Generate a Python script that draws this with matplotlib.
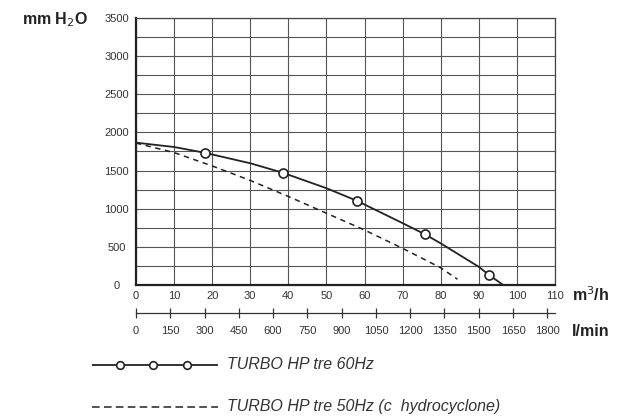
import numpy as np
import matplotlib
matplotlib.use('Agg')
import matplotlib.pyplot as plt

# flow in m3/h, head in mm H2O
hz60_x = [0, 10, 18.1, 30, 38.6, 50, 58, 70, 75.9, 80, 90, 92.7, 96.4]
hz60_y = [1865, 1808, 1732, 1595, 1470, 1268, 1103, 810, 663, 545, 238, 131, 0]
hz60_mark_x = [18.1, 38.6, 58, 75.9, 92.7]
hz60_mark_y = [1732, 1470, 1103, 663, 131]

hz50_x = [0, 10, 20, 30, 40, 50, 60, 70, 80, 84.4]
hz50_y = [1860, 1735, 1560, 1370, 1160, 940, 720, 480, 225, 75]

x_ticks = [0, 10, 20, 30, 40, 50, 60, 70, 80, 90, 100, 110]
y_ticks = [0, 500, 1000, 1500, 2000, 2500, 3000, 3500]
lmin_ticks = [0, 150, 300, 450, 600, 750, 900, 1050, 1200, 1350, 1500, 1650, 1800]

labels = ['TURBO HP tre 60Hz', 'TURBO HP tre 50Hz (c  hydrocyclone)']

plt.rcParams['font.family'] = ['Liberation Sans', 'DejaVu Sans']
dark = '#333333'

fig = plt.figure(figsize=(6.18, 4.16), dpi=100)
ax = fig.add_axes([0.220, 0.315, 0.678, 0.642])

ax.set_xlim(0, 110)
ax.set_ylim(0, 3500)
ax.set_xticks(x_ticks)
ax.set_yticks(y_ticks)
ax.set_yticks(np.arange(250, 3500, 500), minor=True)
ax.grid(True, which='both', color='#555555', linewidth=0.8)
ax.set_axisbelow(True)
ax.tick_params(which='both', length=0, colors=dark, labelsize=8)
ax.tick_params(axis='x', pad=4)
ax.tick_params(axis='y', pad=14)
for t in ax.get_yticklabels():
    t.set_horizontalalignment('center')
for s in ['top', 'right']:
    ax.spines[s].set_linewidth(0.9)
    ax.spines[s].set_color('#444444')
for s in ['left', 'bottom']:
    ax.spines[s].set_linewidth(1.6)
    ax.spines[s].set_color('#222222')

ax.plot(hz60_x, hz60_y, color='#222222', linewidth=1.3)
ax.plot(hz60_mark_x, hz60_mark_y, 'o', color='#222222', markerfacecolor='white',
        markersize=6.5, markeredgewidth=1.2)
ax.plot(hz50_x, hz50_y, color='#222222', linewidth=1.1, linestyle=(0, (3.5, 3)))

# second flow scale in l/min
sec = ax.secondary_xaxis('bottom', functions=(lambda v: v * 1000 / 60, lambda v: v * 60 / 1000))
sec.spines['bottom'].set_position(('outward', 20))
sec.spines['bottom'].set_linewidth(0.9)
sec.spines['bottom'].set_color('#333333')
sec.set_xticks(lmin_ticks)
sec.tick_params(direction='inout', length=7, width=0.9, colors=dark, labelsize=8, pad=6)

fig.text(0.036, 0.952, 'mm H$_2$O', fontsize=11.5, fontweight='bold', color='#222222', va='center')
fig.text(0.926, 0.291, 'm$^3$/h', fontsize=11.5, fontweight='bold', color='#222222', va='center')
fig.text(0.926, 0.203, 'l/min', fontsize=11.5, fontweight='bold', color='#222222', va='center')

# legend drawn below the chart
lg = fig.add_axes([0.149, 0.0, 0.204, 0.16])
lg.set_xlim(0, 1)
lg.set_ylim(0, 0.16)
lg.axis('off')
lg.plot([0, 1], [0.123, 0.123], color='#222222', linewidth=1.3)
lg.plot([0.22, 0.48, 0.75], [0.123, 0.123, 0.123], 'o', color='#222222', markerfacecolor='white',
        markersize=5.5, markeredgewidth=1.2)
lg.plot([0, 1], [0.022, 0.022], color='#222222', linewidth=1.1, linestyle=(0, (5, 2.8)))
fig.text(0.367, 0.123, labels[0], fontsize=11.5, style='italic', color=dark, va='center')
fig.text(0.367, 0.022, labels[1], fontsize=11.5, style='italic', color=dark, va='center')

fig.savefig('out.png', dpi=100)
